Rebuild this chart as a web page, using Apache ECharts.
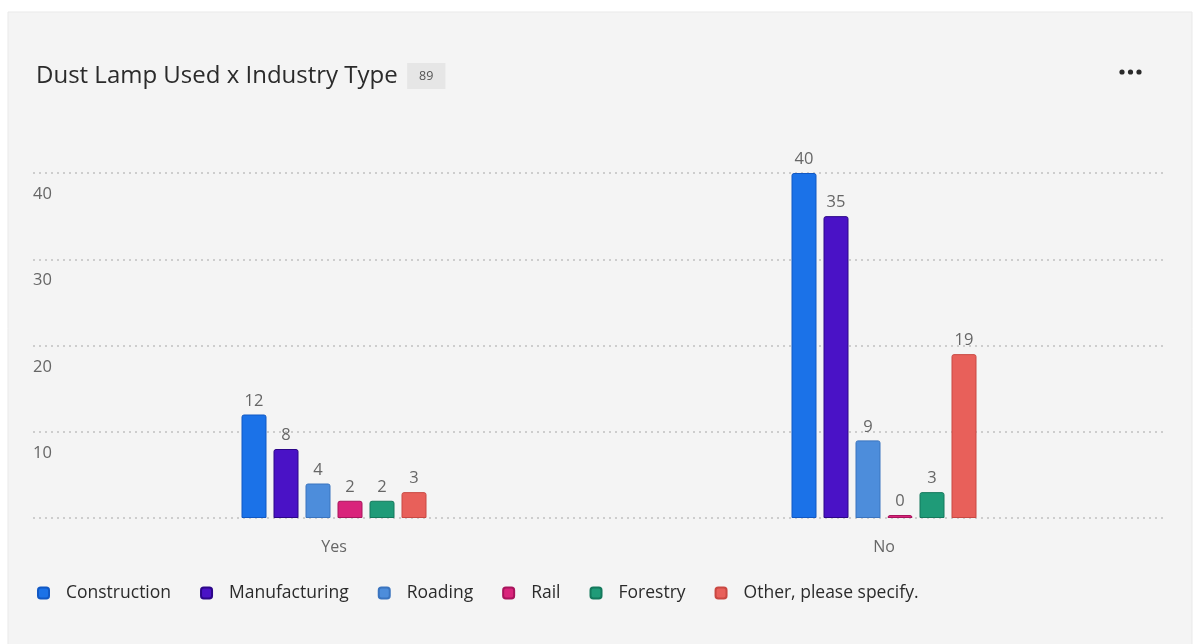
<!DOCTYPE html>
<html>
<head>
<meta charset="utf-8">
<style>
  html, body { margin: 0; padding: 0; background: #ffffff; }
  #chart { width: 1197px; height: 644px; }
</style>
<script src="https://cdn.jsdelivr.net/npm/echarts@6/dist/echarts.min.js"></script>
</head>
<body>
<div id="chart"></div>
<script>
// Dust lamp usage split by industry type
const categories = ['Yes', 'No'];
const seriesNames = ['Construction', 'Manufacturing', 'Roading', 'Rail', 'Forestry', 'Other, please specify.'];
const construction = [12, 40];
const manufacturing = [8, 35];
const roading = [4, 9];
const rail = [2, 0];
const forestry = [2, 3];
const other = [3, 19];
const yTicks = [0, 10, 20, 30, 40];
const totalResponses = 89;

const seriesValues = [construction, manufacturing, roading, rail, forestry, other];
const fills = ['#1b72e8', '#4a12c6', '#4d8ddb', '#d9247b', '#1f9b78', '#e8605a'];
const borders = ['#1158c4', '#2c0688', '#3a74bf', '#a8145c', '#14795c', '#c94842'];

const FONT = '"Open Sans", "Noto Sans", sans-serif';
const yMin = yTicks[0];
const yMax = yTicks[yTicks.length - 1];
const yStep = yTicks[1] - yTicks[0];

const chart = echarts.init(document.getElementById('chart'), null, { renderer: 'canvas' });

// three-dot menu glyph in the panel corner
const menuDots = [1122, 1130.5, 1139].map(cx => ({
  type: 'circle', silent: true,
  shape: { cx, cy: 72, r: 2.6 },
  style: { fill: '#2a2a2a' }
}));

chart.setOption({
  backgroundColor: '#ffffff',
  animation: false,
  textStyle: { fontFamily: FONT },
  graphic: [
    {
      type: 'rect', z: -10, silent: true,
      shape: { x: 8, y: 12, width: 1184, height: 640 },
      style: { fill: '#f4f4f4', stroke: '#e9e9e9', lineWidth: 1 }
    }
  ].concat(menuDots),
  title: {
    left: 31, top: 58,
    text: '{t|Dust Lamp Used x Industry Type}  {b|' + totalResponses + '}',
    textStyle: {
      rich: {
        t: { fontSize: 24, fontWeight: 'normal', color: '#2b2b2b', fontFamily: FONT },
        b: { fontSize: 12.5, fontWeight: 'normal', color: '#555555', backgroundColor: '#e6e6e6',
             padding: [7, 12, 6, 12], fontFamily: FONT }
      }
    }
  },
  legend: {
    left: 32, top: 579,
    itemWidth: 11, itemHeight: 11, itemGap: 29,
    icon: 'roundRect',
    data: seriesNames,
    textStyle: { fontSize: 17.5, color: '#2b2b2b', fontFamily: FONT, padding: [0, 0, 0, 12] }
  },
  grid: [
    // gridline band, wider than the plotting area
    { left: 33, right: 34, top: 173, bottom: 126, containLabel: false },
    // plotting area for the bars
    { left: 59, right: 38, top: 173, bottom: 126, containLabel: false }
  ],
  xAxis: [
    { type: 'category', gridIndex: 0, data: categories, show: false },
    {
      type: 'category', gridIndex: 1, data: categories,
      axisLine: { show: false }, axisTick: { show: false },
      axisLabel: { fontSize: 16, color: '#666666', margin: 21, fontFamily: FONT }
    }
  ],
  yAxis: [
    {
      type: 'value', gridIndex: 0, min: yMin, max: yMax, interval: yStep,
      axisLine: { show: false }, axisTick: { show: false },
      splitLine: { show: true, lineStyle: { color: '#cdcdcd', type: [2, 4], width: 2 } },
      axisLabel: {
        inside: true, fontSize: 16.5, color: '#666666', fontFamily: FONT,
        verticalAlign: 'top', padding: [13, 0, 0, 0], margin: 0,
        formatter: v => (v === 0 ? '' : String(v))
      }
    },
    {
      type: 'value', gridIndex: 1, min: yMin, max: yMax, interval: yStep,
      show: false, splitLine: { show: false }
    }
  ],
  series: seriesNames.map((name, i) => ({
    name,
    type: 'bar',
    xAxisIndex: 1, yAxisIndex: 1,
    data: seriesValues[i],
    barWidth: 25,
    barGap: '28%',
    barCategoryGap: '66%',
    barMinHeight: 3,
    itemStyle: { color: fills[i], borderColor: borders[i], borderWidth: 1, borderRadius: [2, 2, 0, 0] },
    label: {
      show: true, position: 'top', distance: 5,
      fontSize: 16.5, color: '#666666', fontFamily: FONT
    }
  }))
});
</script>
</body>
</html>
